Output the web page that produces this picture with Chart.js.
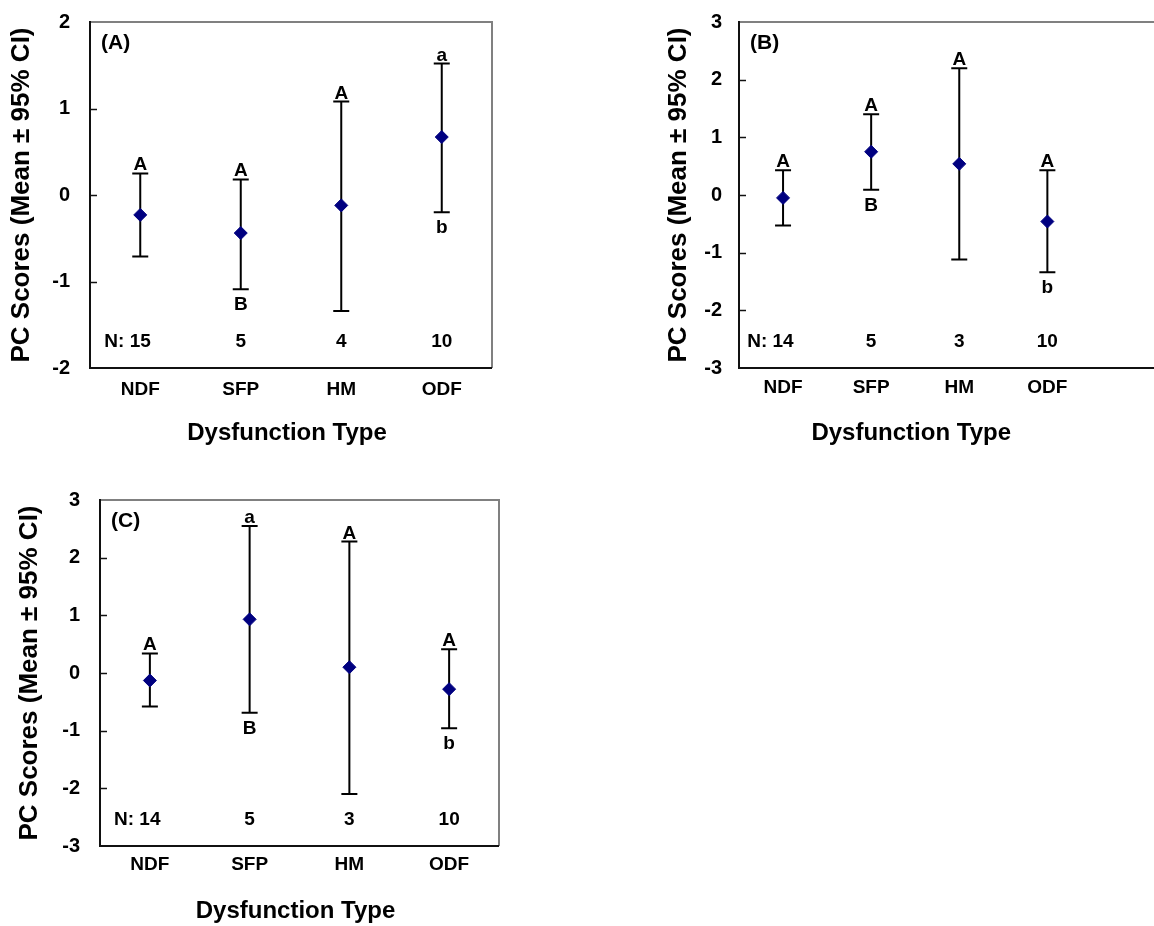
<!DOCTYPE html>
<html>
<head>
<meta charset="utf-8">
<script src="https://cdn.jsdelivr.net/npm/chart.js@4.4.0/dist/chart.umd.min.js"></script>
<style>
  html, body { margin: 0; padding: 0; background: #fff; overflow: hidden; width: 1154px; height: 926px; }
  canvas { position: absolute; }
</style>
</head>
<body>
<canvas id="chartA" width="500" height="460" style="left:0px;top:0px"></canvas>
<canvas id="chartB" width="513" height="460" style="left:649px;top:0px"></canvas>
<canvas id="chartC" width="497" height="448" style="left:10px;top:478px"></canvas>
<script>
// categories shared by all three panels
const categories = ['NDF', 'SFP', 'HM', 'ODF'];

// Panel A
const meanA = [-0.23, -0.44, -0.12, 0.67];
const upperA = [0.25, 0.18, 1.08, 1.52];
const lowerA = [-0.71, -1.09, -1.34, -0.20];
const nA = [15, 5, 4, 10];
const topLetterA = ['A', 'A', 'A', 'a'];
const bottomLetterA = ['', 'B', '', 'b'];

// Panel B
const meanB = [-0.05, 0.75, 0.54, -0.46];
const upperB = [0.43, 1.40, 2.20, 0.43];
const lowerB = [-0.53, 0.09, -1.12, -1.34];
const nB = [14, 5, 3, 10];
const topLetterB = ['A', 'A', 'A', 'A'];
const bottomLetterB = ['', 'B', '', 'b'];

// Panel C
const meanC = [-0.13, 0.93, 0.10, -0.28];
const upperC = [0.34, 2.55, 2.28, 0.41];
const lowerC = [-0.58, -0.69, -2.10, -0.96];
const nC = [14, 5, 3, 10];
const topLetterC = ['A', 'a', 'A', 'A'];
const bottomLetterC = ['', 'B', '', 'b'];

const FONT = "'Liberation Sans', Arial, Helvetica, sans-serif";
Chart.defaults.font.family = FONT;
Chart.defaults.color = '#000';

// builds the plugin that draws error bars, frame, inward ticks and annotations
function makeAnnotations(p) {
  return {
    id: 'annot' + p.label,
    beforeDatasetsDraw(chart) {
      const { ctx, scales: { x, y } } = chart;
      ctx.save();
      ctx.strokeStyle = '#000';
      ctx.lineWidth = 2;
      p.upper.forEach((u, i) => {
        const px = x.getPixelForValue(i);
        const yu = y.getPixelForValue(u);
        const yl = y.getPixelForValue(p.lower[i]);
        ctx.beginPath();
        ctx.moveTo(px, yu); ctx.lineTo(px, yl);
        ctx.moveTo(px - 8, yu); ctx.lineTo(px + 8, yu);
        ctx.moveTo(px - 8, yl); ctx.lineTo(px + 8, yl);
        ctx.stroke();
      });
      ctx.restore();
    },
    afterDraw(chart) {
      const { ctx, chartArea: a, scales: { x, y } } = chart;
      ctx.save();
      // frame: grey top/right, black left/bottom
      ctx.lineWidth = 2;
      ctx.strokeStyle = '#808080';
      ctx.beginPath();
      ctx.moveTo(a.left, a.top); ctx.lineTo(a.right, a.top);
      if (p.drawRight) { ctx.lineTo(a.right, a.bottom); }
      ctx.stroke();
      ctx.strokeStyle = '#111';
      ctx.beginPath();
      ctx.moveTo(a.left, a.top - 1); ctx.lineTo(a.left, a.bottom); ctx.lineTo(a.right, a.bottom);
      ctx.stroke();
      // inward tick marks
      ctx.lineWidth = 1.5;
      y.ticks.forEach(t => {
        if (t.value <= y.min || t.value >= y.max) return;
        const py = Math.round(y.getPixelForValue(t.value)) + 0.5;
        ctx.beginPath();
        ctx.moveTo(a.left, py); ctx.lineTo(a.left + 7, py);
        ctx.stroke();
      });

      ctx.fillStyle = '#000';
      // panel label
      ctx.font = 'bold 21px ' + FONT;
      ctx.textAlign = 'left';
      ctx.textBaseline = 'middle';
      ctx.fillText('(' + p.label + ')', a.left + 11, a.top + 21);

      // x-axis title, centred under the categories
      ctx.font = 'bold 24px ' + FONT;
      ctx.textAlign = 'center';
      ctx.fillText('Dysfunction Type', x.getPixelForValue(1.5) - 4, a.bottom + 65);

      // significance letters
      ctx.font = 'bold 19px ' + FONT;
      ctx.textAlign = 'center';
      ctx.textBaseline = 'alphabetic';
      categories.forEach((c, i) => {
        const px = x.getPixelForValue(i);
        if (p.topLetter[i]) ctx.fillText(p.topLetter[i], px, y.getPixelForValue(p.upper[i]) - 3);
        if (p.bottomLetter[i]) ctx.fillText(p.bottomLetter[i], px, y.getPixelForValue(p.lower[i]) + 21);
      });

      // sample sizes
      ctx.textBaseline = 'middle';
      const ny = a.bottom - 26;
      p.n.forEach((n, i) => {
        const px = x.getPixelForValue(i);
        ctx.textAlign = 'center';
        ctx.fillText(String(n), px, ny);
        if (i === 0) {
          const w = ctx.measureText(String(n)).width;
          ctx.textAlign = 'right';
          ctx.fillText('N: ', px - w / 2, ny);
        }
      });
      ctx.restore();
    }
  };
}

function drawPanel(p) {
  const canvas = document.getElementById(p.id);
  return new Chart(canvas.getContext('2d'), {
    type: 'scatter',
    data: {
      datasets: [{
        data: p.mean.map((m, i) => ({ x: i, y: m })),
        pointStyle: 'rectRot',
        pointRadius: 6.5,
        pointBorderWidth: 1,
        backgroundColor: '#000080',
        borderColor: '#000080'
      }]
    },
    options: {
      responsive: false,
      animation: false,
      devicePixelRatio: 1,
      layout: { padding: { top: p.padTop, right: p.padRight, left: 0, bottom: 0 } },
      plugins: { legend: { display: false }, tooltip: { enabled: false } },
      scales: {
        x: {
          type: 'linear',
          min: -0.5,
          max: p.xMax,
          afterBuildTicks: s => { s.ticks = categories.map((c, i) => ({ value: i })); },
          afterFit: s => { s.height = p.xAxisH; s.paddingLeft = 0; s.paddingRight = 0; },
          grid: { display: false, drawTicks: false },
          border: { display: false },
          ticks: {
            autoSkip: false,
            maxRotation: 0,
            padding: p.xTickPad,
            font: { size: 19, weight: 'bold', lineHeight: 1 },
            callback: v => categories[v]
          }
        },
        y: {
          min: p.yMin,
          max: p.yMax,
          afterFit: s => { s.width = 90; s.paddingTop = 0; s.paddingBottom = 0; },
          grid: { display: false, drawTicks: false },
          border: { display: false },
          ticks: {
            stepSize: 1,
            padding: p.yTickPad,
            font: { size: 20, weight: 'bold', lineHeight: 1 }
          },
          title: {
            display: true,
            text: 'PC Scores (Mean ± 95% CI)',
            font: { size: 26, weight: 'bold', lineHeight: 1 },
            padding: { top: p.yTitlePad, bottom: 0 }
          }
        }
      }
    },
    plugins: [makeAnnotations(p)]
  });
}

drawPanel({
  id: 'chartA', label: 'A', mean: meanA, upper: upperA, lower: lowerA, n: nA,
  topLetter: topLetterA, bottomLetter: bottomLetterA,
  yMin: -2, yMax: 2, xMax: 3.5, padTop: 22, padRight: 8, xAxisH: 92,
  yTickPad: 20, yTitlePad: 8.5, xTickPad: 12.5, drawRight: true
});
drawPanel({
  id: 'chartB', label: 'B', mean: meanB, upper: upperB, lower: lowerB, n: nB,
  topLetter: topLetterB, bottomLetter: bottomLetterB,
  yMin: -3, yMax: 3, xMax: 4.216, padTop: 22, padRight: 0, xAxisH: 92,
  yTickPad: 17, yTitlePad: 17, xTickPad: 10.5, drawRight: false
});
drawPanel({
  id: 'chartC', label: 'C', mean: meanC, upper: upperC, lower: lowerC, n: nC,
  topLetter: topLetterC, bottomLetter: bottomLetterC,
  yMin: -3, yMax: 3, xMax: 3.5, padTop: 22, padRight: 8, xAxisH: 80,
  yTickPad: 20, yTitlePad: 7, xTickPad: 9.5, drawRight: true
});
</script>
</body>
</html>
